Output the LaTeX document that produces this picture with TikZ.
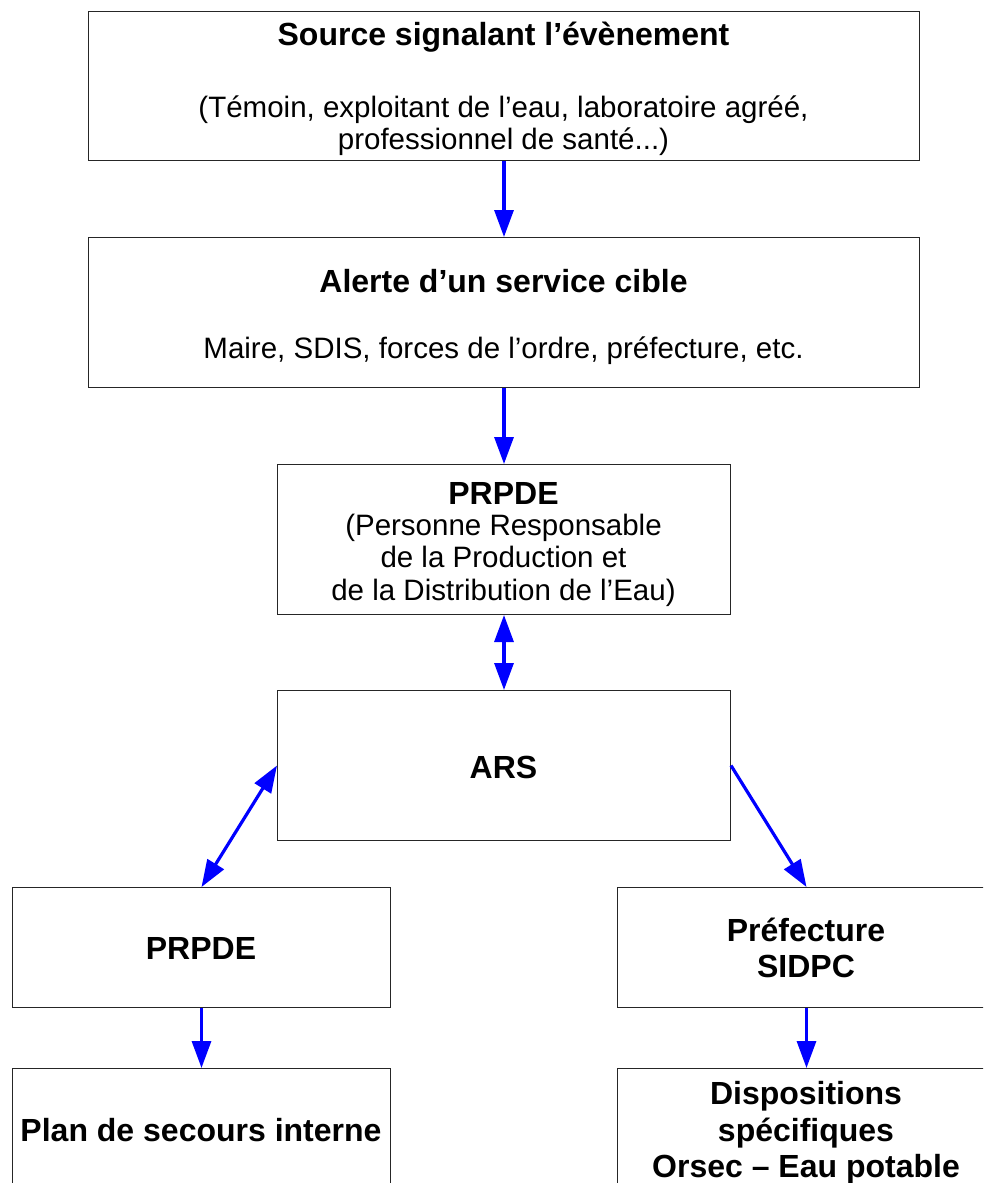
\documentclass[tikz,border=0pt]{standalone}
\usepackage{fontspec}
\setmainfont{Liberation Sans}
\usetikzlibrary{arrows.meta}
\begin{document}
\begin{tikzpicture}[x=1pt,y=-1pt,
 box/.style={draw=black!85, line width=1pt, fill=white, inner sep=0pt, anchor=north west},
 tip/.tip={Triangle[length=27pt,width=19pt]},
 arr/.style={draw=blue, line width=3.2pt, -tip},
 darr/.style={draw=blue, line width=3.2pt, tip-tip},
 ttl/.style={font=\fontsize{32}{36.5}\selectfont\bfseries, align=center, inner sep=0pt},
 txt/.style={font=\fontsize{29.5}{32.5}\selectfont, align=center, inner sep=0pt}]
\useasboundingbox (0,0) rectangle (983,1183);
\clip (0,0) rectangle (983,1183);
% boxes
\node[box, minimum width=831pt, minimum height=149pt] (b1) at (88,11) {};
\node[box, minimum width=831pt, minimum height=150pt] (b2) at (88,237) {};
\node[box, minimum width=453pt, minimum height=150pt] (b3) at (277,464) {};
\node[box, minimum width=453pt, minimum height=150pt] (b4) at (277,690) {};
\node[box, minimum width=378pt, minimum height=120pt] (b5) at (12,887) {};
\node[box, minimum width=378pt, minimum height=120pt] (b6) at (617,887) {};
\node[box, minimum width=378pt, minimum height=130pt] (b7) at (12,1068) {};
\node[box, minimum width=378pt, minimum height=130pt] (b8) at (617,1068) {};
% texts
\node[ttl] (t1) at (503.5,37) {Source signalant l’évènement};
\node[txt] (s1) at (503.5,125.5) {(Témoin, exploitant de l’eau, laboratoire agréé,\\professionnel de santé...)};
\node[ttl] (t2) at (503.5,281) {Alerte d’un service cible};
\node[txt] (s2) at (503.5,351) {Maire, SDIS, forces de l’ordre, préfecture, etc.};
\node[ttl] (t3) at (503.5,493) {PRPDE};
\node[txt] (s3) at (503.5,560) {(Personne Responsable\\de la Production et\\de la Distribution de l’Eau)};
\node[ttl] (t4) at (503.5,767) {ARS};
\node[ttl] (t5) at (201,948) {PRPDE};
\node[ttl] (t6) at (806,948) {Préfecture\\SIDPC};
\node[ttl] (t7) at (201,1130) {Plan de secours interne};
\node[ttl] (t8) at (806,1133) {Dispositions\\spécifiques\\Orsec – Eau potable};
% connectors
\draw[arr] (b1.south) -- (b2.north);
\draw[arr] (b2.south) -- (b3.north);
\draw[darr] (b3.south) -- (b4.north);
\draw[darr] (b4.west) -- (b5.north);
\draw[arr] (b4.east) -- (b6.north);
\draw[arr] (b5.south) -- (b7.north);
\draw[arr] (b6.south) -- (b8.north);
\end{tikzpicture}
\end{document}
